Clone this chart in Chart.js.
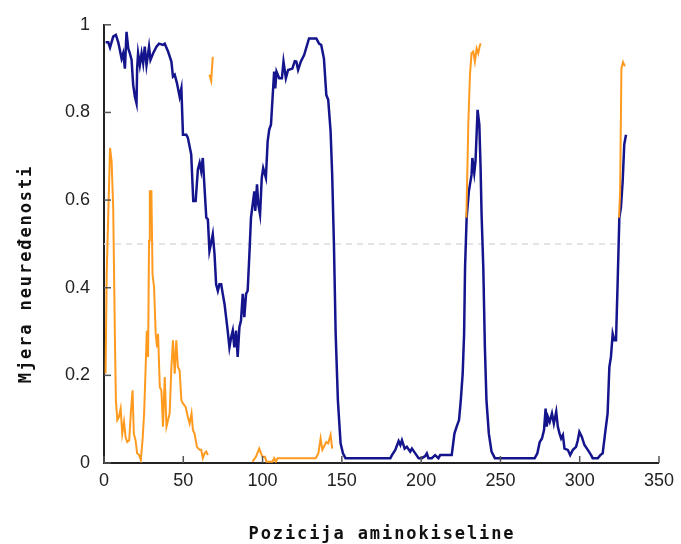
<!DOCTYPE html>
<html>
<head>
<meta charset="utf-8">
<script src="https://cdn.jsdelivr.net/npm/chart.js@4.4.0/dist/chart.umd.min.js"></script>
<style>
  html, body { margin: 0; padding: 0; background: #fff; }
  #wrap { width: 681px; height: 544px; }
</style>
</head>
<body>
<div id="wrap"><canvas id="chart" width="681" height="544"></canvas></div>
<script>
const xTitle = 'Pozicija aminokiseline';
const yTitle = 'Mjera neuređenosti';
const xTicks = [0, 50, 100, 150, 200, 250, 300, 350];
const yTicks = [0, 0.2, 0.4, 0.6, 0.8, 1];

// blue series
const blueX = [1, 2.7, 3.8, 5.8, 7.5, 9, 11.1, 12.1, 13.2, 14.2, 15.3, 16.3, 17.4, 18.4, 19.5, 20.5, 20.9, 21.5, 22.6, 23.7,
  24.7, 25.7, 26.8, 28.4, 29.3, 31, 33.1, 34.7, 37.2, 38.3, 40.4, 42.5, 43.5, 44.6, 46, 47.7, 48.8, 49.8, 51.9, 52.9,
  55, 56.3, 57.8, 59.2, 60.3, 61.3, 62.3, 64.5, 65.5, 66.5, 67.6, 68.6, 69.7, 70.7, 71.8, 72.8, 73.9, 74.9, 76, 77,
  78, 79.1, 80.2, 81.2, 82.2, 83.3, 84.3, 85.4, 86.4, 87.5, 88.5, 89.6, 90.6, 91.7, 92.7, 94.8, 95.4, 96.5, 97.3, 98.4,
  99.5, 100.4, 102.1, 103.2, 104.2, 105.3, 106.3, 107.3, 108, 108.8, 110.5, 112.2, 113.2, 114.7, 116.1, 118.8, 120.3, 121.3, 122.4, 124.1,
  126.2, 129.3, 133.9, 135.6, 137, 138.7, 140.2, 141.4, 142.9, 143.9, 145, 146.1, 147.5, 149.2, 150.7, 152.3, 180.6, 181.6, 183.7, 185.8,
  186.9, 187.9, 189.6, 191, 193.1, 194.2, 196.3, 198.4, 200.4, 202.6, 203.6, 204.6, 206.7, 208.8, 210.9, 212, 219.3, 221, 222.4, 223.9,
  225, 226.2, 227.1, 227.7, 228.7, 230.1, 231.8, 232.3, 233.5, 234.3, 235.6, 236.7, 237.5, 238.1, 239.2, 240.2, 241.2, 242.7, 244.4, 246.5,
  271.6, 273.3, 274.8, 276.2, 277.5, 278.5, 279.2, 280, 281.1, 282.5, 283.7, 285.2, 286.2, 287.3, 288.3, 289.4, 290.4, 292.5, 294, 295.7,
  297.7, 298.8, 299.8, 301.3, 303, 305.1, 307.2, 308.2, 311.4, 313, 314.5, 316, 317.6, 318.7, 319.7, 320.8, 321.8, 322.9, 323.9, 325,
  326, 327.1, 328.1, 329.2];
const blueY = [0.96, 0.96, 0.948, 0.973, 0.977, 0.96, 0.923, 0.935, 0.9, 0.984, 0.946, 0.935, 0.92, 0.863, 0.836, 0.821, 0.9, 0.935, 0.908, 0.935,
  0.912, 0.95, 0.908, 0.95, 0.92, 0.935, 0.95, 0.957, 0.954, 0.957, 0.939, 0.916, 0.882, 0.886, 0.867, 0.836, 0.855, 0.749, 0.749, 0.742,
  0.704, 0.598, 0.598, 0.67, 0.685, 0.666, 0.696, 0.56, 0.556, 0.484, 0.503, 0.522, 0.477, 0.408, 0.393, 0.408, 0.408, 0.386, 0.363, 0.333,
  0.302, 0.264, 0.287, 0.302, 0.264, 0.302, 0.242, 0.31, 0.325, 0.386, 0.333, 0.386, 0.393, 0.477, 0.56, 0.62, 0.575, 0.636, 0.59, 0.567,
  0.651, 0.673, 0.651, 0.734, 0.761, 0.772, 0.833, 0.893, 0.855, 0.893, 0.878, 0.878, 0.916, 0.878, 0.897, 0.9, 0.917, 0.916, 0.897, 0.916,
  0.931, 0.969, 0.969, 0.957, 0.954, 0.923, 0.84, 0.829, 0.757, 0.658, 0.5, 0.295, 0.143, 0.045, 0.022, 0.011, 0.011, 0.018, 0.03, 0.05,
  0.041, 0.052, 0.033, 0.037, 0.026, 0.033, 0.022, 0.011, 0.011, 0.016, 0.022, 0.011, 0.011, 0.018, 0.011, 0.018, 0.018, 0.067, 0.083, 0.098,
  0.143, 0.204, 0.295, 0.446, 0.56, 0.62, 0.658, 0.696, 0.662, 0.689, 0.806, 0.772, 0.673, 0.57, 0.446, 0.264, 0.143, 0.067, 0.026, 0.011,
  0.011, 0.022, 0.048, 0.056, 0.075, 0.124, 0.083, 0.105, 0.094, 0.113, 0.09, 0.117, 0.083, 0.067, 0.056, 0.064, 0.033, 0.03, 0.018, 0.03,
  0.037, 0.052, 0.071, 0.06, 0.041, 0.03, 0.018, 0.011, 0.011, 0.018, 0.022, 0.067, 0.113, 0.219, 0.242, 0.295, 0.28, 0.28, 0.408, 0.56,
  0.583, 0.643, 0.727, 0.749];

// orange series, null = gap in the line
const orangeX = [1, 1.7, 3.8, 4.8, 5.8, 6.9, 7.5, 8.4, 9.4, 10.5, 11.5, 12.6, 13.6, 14.6, 15.9, 16.9, 18, 18.8, 19.9, 20.9,
  22.2, 23.2, 24.3, 25.3, 26.4, 27, 27.8, 28.4, 28.9, 29.9, 30.6, 31.6, 32.6, 33.5, 34.1, 35.2, 36.2, 37.2, 38.3, 39.4,
  40.4, 41.4, 42.5, 43.5, 44.6, 45.6, 46.6, 47.7, 48.8, 49.8, 51.5, 52.9, 54, 55.2, 56.1, 57.1, 58.6, 60.3, 61.3, 62.3,
  63.4, 64.5, 65.5, 66, 66.5, 67.6, 68.6, 80, 93.7, 95.8, 97.9, 99, 100, 101.5, 102.5, 106.3, 107.3, 108.4, 109.4, 133.5,
  135.2, 136.6, 137.7, 138.7, 140.2, 141.4, 142.9, 143.9, 180, 228.5, 229.8, 230.8, 231.8, 232.9, 233.9, 235, 236, 237.1, 237.7, 280,
  324.8, 325.5, 326.3, 327.3, 328.5];
const orangeY = [0.204, 0.431, 0.719, 0.689, 0.583, 0.28, 0.143, 0.098, 0.105, 0.124, 0.067, 0.094, 0.06, 0.048, 0.052, 0.113, 0.166, 0.067, 0.052, 0.022,
  0.018, 0.007, 0.052, 0.113, 0.234, 0.302, 0.242, 0.507, 0.62, 0.62, 0.431, 0.4, 0.295, 0.264, 0.295, 0.173, 0.166, 0.083, 0.196, 0.083,
  0.098, 0.113, 0.219, 0.28, 0.204, 0.28, 0.219, 0.211, 0.143, 0.136, 0.128, 0.105, 0.09, 0.113, 0.075, 0.067, 0.037, 0.03, 0.03, 0.011,
  0.022, 0.026, 0.018, null, 0.886, 0.872, 0.927, null, 0.003, 0.014, 0.033, 0.022, 0.014, 0.014, 0.003, 0.003, 0.011, 0.003, 0.011, 0.011,
  0.022, 0.056, 0.03, 0.037, 0.048, 0.045, 0.064, 0.033, null, 0.56, 0.78, 0.886, 0.935, 0.939, 0.916, 0.946, 0.935, 0.954, 0.957, null,
  0.56, 0.62, 0.9, 0.915, 0.905];

const cutoffX = [0, 327];
const cutoffY = [0.5, 0.5];

const toPoints = (xs, ys) => xs.map((x, i) => ({ x: x, y: ys[i] }));

const axisDecor = {
  id: 'axisDecor',
  afterDraw(chart) {
    const { ctx, chartArea, scales } = chart;
    ctx.save();
    ctx.strokeStyle = '#555';
    ctx.lineWidth = 1.5;
    xTicks.forEach(v => {
      const px = scales.x.getPixelForValue(v);
      ctx.beginPath();
      ctx.moveTo(px, chartArea.bottom);
      ctx.lineTo(px, chartArea.bottom - 7);
      ctx.stroke();
    });
    yTicks.forEach(v => {
      const py = scales.y.getPixelForValue(v);
      ctx.beginPath();
      ctx.moveTo(chartArea.left, py);
      ctx.lineTo(chartArea.left + 7, py);
      ctx.stroke();
    });

    // axis titles, spaced monospace like the original
    ctx.fillStyle = '#111';
    ctx.font = 'bold 17px "DejaVu Sans Mono"';
    ctx.letterSpacing = '1.9px';
    ctx.textAlign = 'center';
    ctx.textBaseline = 'alphabetic';
    ctx.fillText(xTitle, 382, 539);
    ctx.translate(31, 274);
    ctx.rotate(-Math.PI / 2);
    ctx.fillText(yTitle, 0, 0);
    ctx.restore();
  }
};

const tickFont = { family: '"Liberation Sans", Arial, sans-serif', size: 18 };

new Chart(document.getElementById('chart').getContext('2d'), {
  type: 'line',
  data: {
    datasets: [
      {
        data: toPoints(orangeX, orangeY),
        borderColor: '#ff9a1f',
        borderWidth: 2,
        pointRadius: 0,
        spanGaps: false,
        tension: 0
      },
      {
        data: toPoints(blueX, blueY),
        borderColor: '#14148c',
        borderWidth: 2.5,
        pointRadius: 0,
        tension: 0
      },
      {
        data: toPoints(cutoffX, cutoffY),
        borderColor: '#dcdcdc',
        borderWidth: 1.5,
        borderDash: [6, 5],
        pointRadius: 0
      }
    ]
  },
  options: {
    responsive: false,
    animation: false,
    layout: { padding: { top: 23, right: 20, left: 0, bottom: 0 } },
    plugins: {
      legend: { display: false },
      tooltip: { enabled: false }
    },
    scales: {
      x: {
        type: 'linear',
        min: 0,
        max: 350,
        afterFit: s => { s.height = 81; },
        afterBuildTicks: s => { s.ticks = xTicks.map(v => ({ value: v })); },
        grid: { drawOnChartArea: false, drawTicks: false },
        border: { display: true, color: '#222', width: 2 },
        ticks: { color: '#222', font: tickFont, padding: 7, maxRotation: 0, callback: v => String(v) }
      },
      y: {
        min: 0,
        max: 1,
        afterFit: s => { s.width = 104; },
        afterBuildTicks: s => { s.ticks = yTicks.map(v => ({ value: v })); },
        grid: { drawOnChartArea: false, drawTicks: false },
        border: { display: true, color: '#222', width: 2 },
        ticks: { color: '#222', font: tickFont, padding: 14, callback: v => String(v) }
      }
    }
  },
  plugins: [axisDecor]
});
</script>
</body>
</html>
